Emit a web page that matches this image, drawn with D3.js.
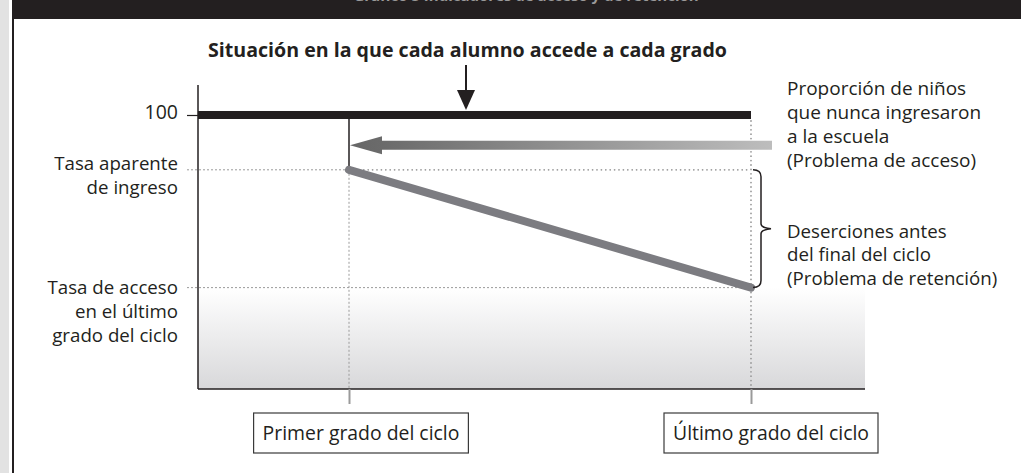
<!DOCTYPE html>
<html><head><meta charset="utf-8">
<script src="https://cdn.jsdelivr.net/npm/d3@7"></script>
<style>
html,body{margin:0;padding:0;background:#fff;}
svg{display:block;font-family:"Open Sans",sans-serif;}
</style></head><body>
<svg id="c" width="1021" height="473"></svg>
<script>
// ---------- data ----------
const grades = ["Primer grado del ciclo", "Último grado del ciclo"];
const idealValues = [100, 100];          // every pupil reaches every grade
const cohortValues = [80, 37];           // apparent intake rate, access rate to last grade
const neverEnrolledLevel = [89];         // level of the "never enrolled" arrow
const yTickValues = [100];
const yTickLabels = ["100"];
const leftLabelValues = [80, 37];
const leftLabelLines = [["Tasa aparente", "de ingreso"], ["Tasa de acceso", "en el último", "grado del ciclo"]];
const titleText = "Situación en la que cada alumno accede a cada grado";
const accessNote = ["Proporción de niños", "que nunca ingresaron", "a la escuela", "(Problema de acceso)"];
const retentionNote = ["Deserciones antes", "del final del ciclo", "(Problema de retención)"];
const headerText = "Gráfico 5   Indicadores de acceso y de retención";

// ---------- layout ----------
const W = 1021, H = 473;
const plot = {left: 198, right: 865, top: 85, bottom: 389};
const ink = "#231f20";
const fs = 18.7;

const svg = d3.select("#c");
const defs = svg.append("defs");

const x = d3.scalePoint().domain(grades).range([349, 751]).padding(0);
const y = d3.scaleLinear().domain([0, 100]).range([plot.bottom, 115]);

// page decoration
svg.append("rect").attr("x", 0).attr("y", 0).attr("width", 9).attr("height", H).attr("fill", "#e2e2e2");
svg.append("rect").attr("x", 12).attr("y", 0).attr("width", W - 12).attr("height", 19).attr("fill", ink);
svg.append("rect").attr("x", 12).attr("y", 0).attr("width", 2).attr("height", H).attr("fill", ink);
svg.append("text").attr("x", 526).attr("y", 0.5).attr("text-anchor", "middle")
  .attr("font-size", 15).attr("font-weight", 700).attr("fill", "#9a9a9a").text(headerText);

// gradient zone below last-grade access
const gz = defs.append("linearGradient").attr("id", "gz").attr("x1", 0).attr("y1", 0).attr("x2", 0).attr("y2", 1);
gz.append("stop").attr("offset", 0).attr("stop-color", "#ffffff");
gz.append("stop").attr("offset", 1).attr("stop-color", "#d8d8da");
svg.append("rect").attr("x", plot.left).attr("y", y(cohortValues[1]))
  .attr("width", plot.right - plot.left).attr("height", plot.bottom - y(cohortValues[1]))
  .attr("fill", "url(#gz)");

// guide lines
const g = svg.append("g");
const first = x(grades[0]), last = x(grades[1]);
function seg(x1, y1, x2, y2, style) {
  const l = g.append("line").attr("x1", x1).attr("y1", y1).attr("x2", x2).attr("y2", y2);
  if (style === "fine") l.attr("stroke", "#9a9a9a").attr("stroke-width", 1).attr("stroke-dasharray", "2,2");
  else l.attr("stroke", "#9a9a9a").attr("stroke-width", 1.8).attr("stroke-linecap", "round").attr("stroke-dasharray", "0,4.4");
  return l;
}
seg(187, y(cohortValues[0]), first, y(cohortValues[0]), "fine");
seg(first + 6, y(cohortValues[0]), last, y(cohortValues[0]), "dots");
seg(187, y(cohortValues[1]), last, y(cohortValues[1]), "fine");
seg(first, y(cohortValues[0]), first, plot.bottom, "fine");
seg(last, y(idealValues[1]) + 6, last, plot.bottom, "dots");

// thin black connector at first grade
svg.append("line").attr("x1", first).attr("x2", first).attr("y1", y(100) + 3).attr("y2", y(cohortValues[0]))
  .attr("stroke", ink).attr("stroke-width", 1.5);

// frame
svg.append("line").attr("x1", plot.left).attr("x2", plot.left).attr("y1", plot.top).attr("y2", plot.bottom)
  .attr("stroke", ink).attr("stroke-width", 1.5);
svg.append("line").attr("x1", plot.left).attr("x2", plot.right).attr("y1", plot.bottom).attr("y2", plot.bottom)
  .attr("stroke", ink).attr("stroke-width", 1.5);

// left axis (100 tick)
const ya = svg.append("g").attr("transform", `translate(${plot.left},0)`)
  .call(d3.axisLeft(y).tickValues(yTickValues).tickSize(11).tickPadding(9)
    .tickFormat((d, i) => yTickLabels[i]));
ya.select(".domain").remove();
ya.selectAll("line").attr("stroke", ink).attr("stroke-width", 1.2);
ya.selectAll("text").attr("font-size", 19.5).attr("font-family", "Open Sans").attr("fill", ink).attr("dy", "0.2em");

// bottom axis ticks
const xa = svg.append("g").attr("transform", `translate(0,${plot.bottom})`)
  .call(d3.axisBottom(x).tickSize(15).tickFormat(""));
xa.select(".domain").remove();
xa.selectAll("line").attr("stroke", "#9a9a9a").attr("stroke-width", 2);

// grade boxes
const boxOffset = [12, 20];
grades.forEach((gname, i) => {
  const cx = x(gname) + boxOffset[i];
  const bg = svg.append("g");
  const r = bg.append("rect").attr("y", 413).attr("height", 40)
    .attr("fill", "#fff").attr("stroke", "#3a3a3a").attr("stroke-width", 1.2);
  const t = bg.append("text").attr("x", cx).attr("y", 433).attr("dy", "0.35em").attr("text-anchor", "middle")
    .attr("font-size", 19.4).attr("fill", ink).text(gname);
  const w = t.node().getComputedTextLength() + 18;
  r.attr("x", cx - w / 2).attr("width", w);
});

// ideal line (100)
svg.append("line").attr("x1", plot.left).attr("x2", last)
  .attr("y1", y(idealValues[0])).attr("y2", y(idealValues[1]))
  .attr("stroke", ink).attr("stroke-width", 8);

// cohort line
svg.append("path").datum(grades.map((gname, i) => [x(gname), y(cohortValues[i])]))
  .attr("d", d3.line()).attr("fill", "none").attr("stroke", "#7c7c81")
  .attr("stroke-width", 8).attr("stroke-linecap", "round");

// never-enrolled arrow
const ay = y(neverEnrolledLevel[0]);
const ag = defs.append("linearGradient").attr("id", "ag").attr("gradientUnits", "userSpaceOnUse")
  .attr("x1", first).attr("x2", last + 21).attr("y1", 0).attr("y2", 0);
ag.append("stop").attr("offset", 0).attr("stop-color", "#666");
ag.append("stop").attr("offset", 0.08).attr("stop-color", "#6b6b6b");
ag.append("stop").attr("offset", 1).attr("stop-color", "#bdbdbd");
const tip = first + 1, tail = last + 21;
svg.append("path")
  .attr("d", `M${tip},${ay} L${tip + 32},${ay - 9} L${tip + 32},${ay - 4.5} L${tail},${ay - 4.5} L${tail},${ay + 4.5} L${tip + 32},${ay + 4.5} L${tip + 32},${ay + 9} Z`)
  .attr("fill", "url(#ag)");

// title + down arrow
svg.append("text").attr("x", 467.5).attr("y", 56.5).attr("text-anchor", "middle")
  .attr("font-size", 19.6).attr("font-weight", 700).attr("fill", ink).text(titleText);
const ax = 466;
svg.append("line").attr("x1", ax).attr("x2", ax).attr("y1", 65).attr("y2", 95).attr("stroke", ink).attr("stroke-width", 2);
svg.append("path").attr("d", `M${ax - 9},90 L${ax + 9},90 L${ax},110 Z`).attr("fill", ink);

// left labels
const leftBase = [y(leftLabelValues[0]) + 0.5, y(leftLabelValues[1]) + 6];
leftLabelLines.forEach((lines, i) => {
  const t = svg.append("text").attr("x", 178).attr("y", leftBase[i]).attr("text-anchor", "end")
    .attr("font-size", fs).attr("fill", ink);
  lines.forEach((s, j) => t.append("tspan").attr("x", 178).attr("dy", j ? 24 : 0).text(s));
});

// right notes
function note(lines, y0, lh, size) {
  const t = svg.append("text").attr("x", 787).attr("y", y0).attr("font-size", size).attr("fill", ink);
  lines.forEach((s, j) => t.append("tspan").attr("x", 787).attr("dy", j ? lh : 0).text(s));
}
note(accessNote, 95, 24, 19);
note(retentionNote, 237.5, 23.6, 18.7);

// brace
const bt = y(cohortValues[0]), bb = y(cohortValues[1]), bm = (bt + bb) / 2;
svg.append("path")
  .attr("d", `M753,${bt} Q761,${bt} 761,${bt + 7} L761,${bm - 5} Q761,${bm - 1} 771,${bm} Q761,${bm + 1} 761,${bm + 5} L761,${bb - 7} Q761,${bb} 753,${bb}`)
  .attr("fill", "none").attr("stroke", ink).attr("stroke-width", 1.5);
</script>
</body></html>
